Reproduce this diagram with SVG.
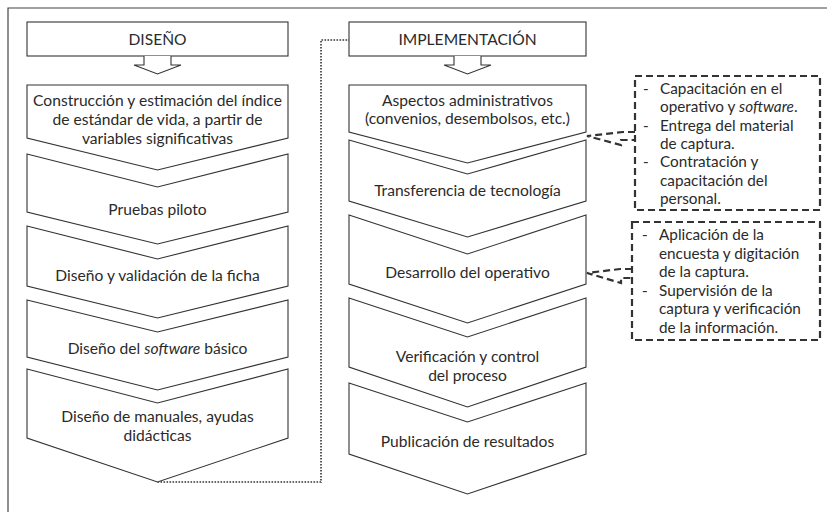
<svg xmlns="http://www.w3.org/2000/svg" width="827" height="512" viewBox="0 0 827 512">
<style>
.bg{fill:#ffffff}
.frame{fill:none;stroke:#444;stroke-width:1.2}
.box{fill:#fff;stroke:#333;stroke-width:1.1}
.arr{fill:#fff;stroke:#333;stroke-width:1.1;stroke-linejoin:miter}
.dot{fill:none;stroke:#333;stroke-width:1.6;stroke-dasharray:1.6 1.4}
.dash{fill:none;stroke:#333;stroke-width:2.2;stroke-dasharray:7 4}
.t{font-family:Lato,"Open Sans","Liberation Sans",sans-serif;font-size:15.6px;fill:#2a2a2a}
.s{font-size:15.3px}
.c{text-anchor:middle}
</style>
<rect class="bg" x="0" y="0" width="827" height="512"/>
<path class="frame" d="M8,512 V8 H827"/>

<g id="connectors">
  <path class="dot" d="M157.5,482 H321 V40 H349"/>
  <path class="dash" d="M635,132 H623 L587,136 L621,145 V140 H635"/>
  <path class="dash" d="M632,269 H620 L587,273 L621,283 V278 H632"/>
</g>

<g id="diseno">
  <rect class="box" x="27" y="22" width="261" height="34"/>
  <path class="arr" d="M144,56 V65 H134 L157.5,74 L181,65 H171 V56"/>
  <text class="t c" x="157.5" y="45">DISEÑO</text>
</g>
<g id="implementacion">
  <rect class="box" x="349" y="22" width="237" height="34"/>
  <path class="arr" d="M454,56 V65 H444 L467.5,74 L491,65 H481 V56"/>
  <text class="t c" x="467.5" y="45">IMPLEMENTACIÓN</text>
</g>

<g id="d1">
  <path class="box" d="M27,85 H288 V138 L157.5,170 L27,138 Z"/>
  <text class="t c" x="157.5" y="106">Construcción y estimación del índice</text>
  <text class="t c" x="157.5" y="125">de estándar de vida, a partir de</text>
  <text class="t c" x="157.5" y="144">variables significativas</text>
</g>
<g id="d2">
  <path class="box" d="M27,154 L157.5,187 L288,154 V212 L157.5,244 L27,212 Z"/>
  <text class="t c" x="157.5" y="215">Pruebas piloto</text>
</g>
<g id="d3">
  <path class="box" d="M27,226 L157.5,259 L288,226 V286 L157.5,318 L27,286 Z"/>
  <text class="t c" x="157.5" y="281">Diseño y validación de la ficha</text>
</g>
<g id="d4">
  <path class="box" d="M27,300 L157.5,332 L288,300 V357 L157.5,390 L27,357 Z"/>
  <text class="t c" x="157.5" y="354">Diseño del <tspan font-style="italic">software</tspan> básico</text>
</g>
<g id="d5">
  <path class="box" d="M27,369 L157.5,403 L288,369 V438 L157.5,482 L27,438 Z"/>
  <text class="t c" x="157.5" y="422">Diseño de manuales, ayudas</text>
  <text class="t c" x="157.5" y="441">didácticas</text>
</g>

<g id="i1">
  <path class="box" d="M349,85 H586 V132 L467.5,163 L349,132 Z"/>
  <text class="t c" x="467.5" y="106">Aspectos administrativos</text>
  <text class="t c" x="467.5" y="124">(convenios, desembolsos, etc.)</text>
</g>
<g id="i2">
  <path class="box" d="M349,140 L467.5,174 L586,140 V201 L467.5,237 L349,201 Z"/>
  <text class="t c" x="467.5" y="196">Transferencia de tecnología</text>
</g>
<g id="i3">
  <path class="box" d="M349,215 L467.5,254 L586,215 V284 L467.5,323 L349,284 Z"/>
  <text class="t c" x="467.5" y="278">Desarrollo del operativo</text>
</g>
<g id="i4">
  <path class="box" d="M349,298 L467.5,337 L586,298 V367 L467.5,407 L349,367 Z"/>
  <text class="t c" x="467.5" y="362">Verificación y control</text>
  <text class="t c" x="467.5" y="381">del proceso</text>
</g>
<g id="i5">
  <path class="box" d="M349,383 L467.5,422 L586,383 V454 L467.5,494 L349,454 Z"/>
  <text class="t c" x="467.5" y="447">Publicación de resultados</text>
</g>

<g id="callout1">
  <rect class="dash" x="635" y="76" width="185" height="134"/>
  <text class="t s" x="643" y="94">-</text>
  <text class="t s" x="660" y="94">Capacitación en el</text>
  <text class="t s" x="660" y="112.3">operativo y <tspan font-style="italic">software</tspan>.</text>
  <text class="t s" x="643" y="130.6">-</text>
  <text class="t s" x="660" y="130.6">Entrega del material</text>
  <text class="t s" x="660" y="148.9">de captura.</text>
  <text class="t s" x="643" y="167.2">-</text>
  <text class="t s" x="660" y="167.2">Contratación y</text>
  <text class="t s" x="660" y="185.5">capacitación del</text>
  <text class="t s" x="660" y="203.8">personal.</text>
</g>
<g id="callout2">
  <rect class="dash" x="632" y="222" width="188" height="118"/>
  <text class="t s" x="642" y="240">-</text>
  <text class="t s" x="659" y="240">Aplicación de la</text>
  <text class="t s" x="659" y="258.5">encuesta y digitación</text>
  <text class="t s" x="659" y="277">de la captura.</text>
  <text class="t s" x="642" y="295.5">-</text>
  <text class="t s" x="659" y="295.5">Supervisión de la</text>
  <text class="t s" x="659" y="314">captura y verificación</text>
  <text class="t s" x="659" y="332.5">de la información.</text>
</g>
</svg>
